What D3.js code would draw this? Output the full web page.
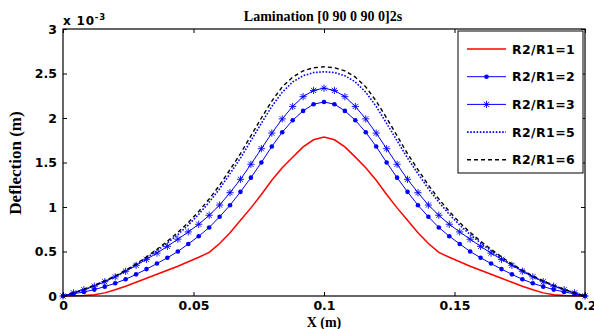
<!DOCTYPE html>
<html>
<head>
<meta charset="utf-8">
<script src="https://cdn.jsdelivr.net/npm/d3@7/dist/d3.min.js"></script>
<style>
	html, body { margin: 0; padding: 0; background: #fff; }
	svg { display: block; }
	.tick text { font-family: "DejaVu Sans", Verdana, sans-serif; font-weight: bold; font-size: 12.5px; fill: #000; }
	.tick line { stroke: #000; }
	.serif { font-family: "Liberation Serif", "Times New Roman", serif; font-weight: bold; }
	.sans { font-family: "DejaVu Sans", Verdana, sans-serif; font-weight: bold; }
</style>
</head>
<body>
<svg id="chart" width="594" height="329"></svg>
<script>
// x positions along the beam (m)
var xs = [0, 0.004, 0.008, 0.012, 0.016, 0.02, 0.024, 0.028, 0.032, 0.036, 0.04, 0.044, 0.048, 0.052, 0.056, 0.06, 0.064, 0.068, 0.072, 0.076, 0.08, 0.084, 0.088, 0.092, 0.096, 0.1,
	0.104, 0.108, 0.112, 0.116, 0.12, 0.124, 0.128, 0.132, 0.136, 0.14, 0.144, 0.148, 0.152, 0.156, 0.16, 0.164, 0.168, 0.172, 0.176, 0.18, 0.184, 0.188, 0.192, 0.196, 0.2];

// deflection values, x 10^-3 m
var r1 = [0, 0.002, 0.006, 0.014, 0.035, 0.07, 0.11, 0.155, 0.2, 0.245, 0.29, 0.335, 0.385, 0.435, 0.49, 0.59, 0.71, 0.85, 0.99, 1.14, 1.3, 1.44, 1.56, 1.675, 1.755, 1.785,
	1.755, 1.675, 1.56, 1.44, 1.3, 1.14, 0.99, 0.85, 0.71, 0.59, 0.49, 0.435, 0.385, 0.335, 0.29, 0.245, 0.2, 0.155, 0.11, 0.07, 0.035, 0.014, 0.006, 0.002, 0];
var r2 = [0, 0.025, 0.045, 0.072, 0.105, 0.143, 0.188, 0.243, 0.302, 0.365, 0.43, 0.5, 0.585, 0.672, 0.77, 0.89, 1.02, 1.17, 1.33, 1.5, 1.68, 1.84, 1.975, 2.08, 2.155, 2.18,
	2.155, 2.08, 1.975, 1.84, 1.68, 1.5, 1.33, 1.17, 1.02, 0.89, 0.77, 0.672, 0.585, 0.5, 0.43, 0.365, 0.302, 0.243, 0.188, 0.143, 0.105, 0.072, 0.045, 0.025, 0];
var r3 = [0, 0.035, 0.07, 0.11, 0.16, 0.215, 0.278, 0.345, 0.412, 0.482, 0.558, 0.638, 0.72, 0.806, 0.907, 1.022, 1.161, 1.311, 1.48, 1.655, 1.83, 1.99, 2.13, 2.24, 2.31, 2.335,
	2.31, 2.24, 2.13, 1.99, 1.83, 1.655, 1.48, 1.311, 1.161, 1.022, 0.907, 0.806, 0.72, 0.638, 0.558, 0.482, 0.412, 0.345, 0.278, 0.215, 0.16, 0.11, 0.07, 0.035, 0];
var r5 = [0, 0.034, 0.073, 0.117, 0.165, 0.218, 0.28, 0.348, 0.425, 0.508, 0.595, 0.69, 0.797, 0.918, 1.055, 1.205, 1.375, 1.55, 1.745, 1.94, 2.13, 2.29, 2.405, 2.475, 2.51, 2.52,
	2.51, 2.475, 2.405, 2.29, 2.13, 1.94, 1.745, 1.55, 1.375, 1.205, 1.055, 0.918, 0.797, 0.69, 0.595, 0.508, 0.425, 0.348, 0.28, 0.218, 0.165, 0.117, 0.073, 0.034, 0];
var r6 = [0, 0.035, 0.075, 0.12, 0.17, 0.225, 0.29, 0.36, 0.44, 0.525, 0.615, 0.715, 0.825, 0.95, 1.09, 1.245, 1.42, 1.6, 1.8, 2.0, 2.19, 2.35, 2.46, 2.53, 2.565, 2.575,
	2.565, 2.53, 2.46, 2.35, 2.19, 2.0, 1.8, 1.6, 1.42, 1.245, 1.09, 0.95, 0.825, 0.715, 0.615, 0.525, 0.44, 0.36, 0.29, 0.225, 0.17, 0.12, 0.075, 0.035, 0];

var seriesNames = ['R2/R1=1', 'R2/R1=2', 'R2/R1=3', 'R2/R1=5', 'R2/R1=6'];
var xTicks = [0, 0.05, 0.1, 0.15, 0.2];
var yTicks = [0, 0.5, 1, 1.5, 2, 2.5, 3];

var series = [
	{ name: seriesNames[0], values: r1, color: '#ff0000', width: 1.5, dash: null, marker: null },
	{ name: seriesNames[1], values: r2, color: '#0000ff', width: 1, dash: null, marker: 'dot' },
	{ name: seriesNames[2], values: r3, color: '#0000ff', width: 1, dash: null, marker: 'star' },
	{ name: seriesNames[3], values: r5, color: '#0000ff', width: 1.6, dash: '1.6,1.6', marker: null },
	{ name: seriesNames[4], values: r6, color: '#000000', width: 1.4, dash: '4,3', marker: null }
];

var svg = d3.select('#chart'),
	padL = 63, padR = 585, padT = 29, padB = 296;

var x = d3.scaleLinear().domain([0, 0.2]).range([padL, padR]);
var y = d3.scaleLinear().domain([0, 3]).range([padB, padT]);

function drawMarker(g, type, cx, cy, color){
	if (type === 'dot'){
		g.append('circle')
			.attr('cx', cx).attr('cy', cy).attr('r', 2.3)
			.attr('fill', color);
	} else if (type === 'star'){
		var s = 3.6, d = 2.6;
		g.append('path')
			.attr('d', 'M' + (cx - s) + ',' + cy + 'H' + (cx + s) +
				'M' + cx + ',' + (cy - s) + 'V' + (cy + s) +
				'M' + (cx - d) + ',' + (cy - d) + 'L' + (cx + d) + ',' + (cy + d) +
				'M' + (cx - d) + ',' + (cy + d) + 'L' + (cx + d) + ',' + (cy - d))
			.attr('stroke', color).attr('stroke-width', 0.9).attr('fill', 'none');
	}
}

// axes, ticks pointing inwards
svg.append('g')
	.attr('transform', 'translate(0,' + padB + ')')
	.call(d3.axisBottom(x).tickValues(xTicks).tickSize(-4).tickPadding(5).tickFormat(d3.format('~g')))
	.call(function(g){ g.select('.domain').remove(); });

svg.append('g')
	.attr('transform', 'translate(' + padL + ',0)')
	.call(d3.axisLeft(y).tickValues(yTicks).tickSize(-4).tickPadding(6).tickFormat(d3.format('~g')))
	.call(function(g){ g.select('.domain').remove(); });

svg.append('g')
	.attr('transform', 'translate(0,' + padT + ')')
	.call(d3.axisTop(x).tickValues(xTicks).tickSize(-4).tickFormat(''))
	.call(function(g){ g.select('.domain').remove(); });

svg.append('g')
	.attr('transform', 'translate(' + padR + ',0)')
	.call(d3.axisRight(y).tickValues(yTicks).tickSize(-4).tickFormat(''))
	.call(function(g){ g.select('.domain').remove(); });

var line = d3.line()
	.x(function(d){ return x(d[0]); })
	.y(function(d){ return y(d[1]); });

var plot = svg.append('g');

series.forEach(function(s){
	var pts = xs.map(function(v, i){ return [v, s.values[i]]; });
	plot.append('path')
		.datum(pts)
		.attr('d', line)
		.attr('fill', 'none')
		.attr('stroke', s.color)
		.attr('stroke-width', s.width)
		.attr('stroke-dasharray', s.dash);
	if (s.marker){
		pts.forEach(function(p){
			drawMarker(plot, s.marker, x(p[0]), y(p[1]), s.color);
		});
	}
});

// frame
svg.append('rect')
	.attr('x', padL).attr('y', padT)
	.attr('width', padR - padL).attr('height', padB - padT)
	.attr('fill', 'none').attr('stroke', '#000').attr('stroke-width', 1.2);

// legend
var lg = svg.append('g').attr('transform', 'translate(458,31)');
lg.append('rect')
	.attr('width', 125).attr('height', 142)
	.attr('fill', '#fff').attr('stroke', '#000').attr('stroke-width', 1);

series.forEach(function(s, i){
	var ly = 18 + i * 27.7;
	lg.append('line')
		.attr('x1', 9).attr('x2', 48).attr('y1', ly).attr('y2', ly)
		.attr('stroke', s.color).attr('stroke-width', s.width)
		.attr('stroke-dasharray', s.dash);
	if (s.marker) drawMarker(lg, s.marker, 28.5, ly, s.color);
	lg.append('text')
		.attr('class', 'sans')
		.attr('x', 54).attr('y', ly + 4.5)
		.attr('font-size', 12.5)
		.attr('letter-spacing', 0.4)
		.text(s.name);
});

// titles
svg.append('text')
	.attr('class', 'serif')
	.attr('x', 323).attr('y', 21)
	.attr('text-anchor', 'middle')
	.attr('font-size', 14)
	.text('Lamination [0 90 0 90 0]2s');

svg.append('text')
	.attr('class', 'serif')
	.attr('x', 324).attr('y', 327)
	.attr('text-anchor', 'middle')
	.attr('font-size', 14)
	.text('X (m)');

svg.append('text')
	.attr('class', 'serif')
	.attr('transform', 'translate(21,163) rotate(-90)')
	.attr('text-anchor', 'middle')
	.attr('font-size', 17)
	.text('Deflection (m)');

var exp = svg.append('text')
	.attr('class', 'sans')
	.attr('x', 63).attr('y', 25)
	.attr('font-size', 12)
	.attr('letter-spacing', 0.8);
exp.append('tspan').text('x 10');
exp.append('tspan').attr('dy', -5).attr('font-size', 8.5).text('-3');
</script>
</body>
</html>
